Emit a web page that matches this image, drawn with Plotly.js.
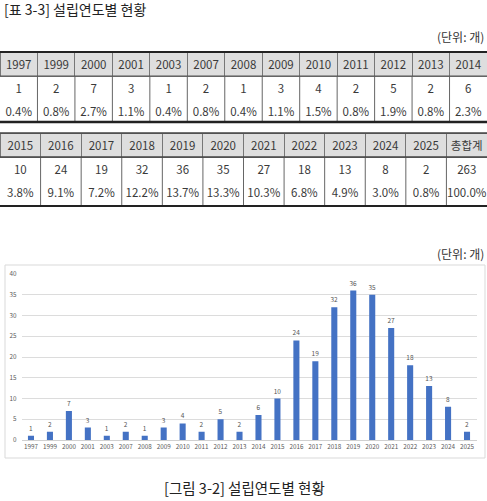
<!DOCTYPE html>
<html>
<head>
<meta charset="utf-8">
<script src="https://cdn.plot.ly/plotly-3.0.1.min.js"></script>
<style>
  html, body { margin: 0; padding: 0; background: #fff; }
  #chart { width: 487px; height: 501px; }
</style>
</head>
<body>
<div id="chart"></div>
<script>
// table 1
var years1 = ['1997', '1999', '2000', '2001', '2003', '2007', '2008', '2009', '2010', '2011', '2012', '2013', '2014'];
var counts1 = [1, 2, 7, 3, 1, 2, 1, 3, 4, 2, 5, 2, 6];
var pcts1 = ['0.4%', '0.8%', '2.7%', '1.1%', '0.4%', '0.8%', '0.4%', '1.1%', '1.5%', '0.8%', '1.9%', '0.8%', '2.3%'];

// table 2
var years2 = ['2015', '2016', '2017', '2018', '2019', '2020', '2021', '2022', '2023', '2024', '2025'];
var counts2 = [10, 24, 19, 32, 36, 35, 27, 18, 13, 8, 2];
var pcts2 = ['3.8%', '9.1%', '7.2%', '12.2%', '13.7%', '13.3%', '10.3%', '6.8%', '4.9%', '3.0%', '0.8%'];
var totalLabel = '총합계';
var totalCount = 263;
var totalPct = '100.0%';

var H = 501, W = 487;
var FONT = '"Noto Sans CJK KR", "Noto Sans", sans-serif';

function py(px) { return 1 - px / H; }
function px(x) { return x / W; }

function makeTable(headers, counts, pcts, top, bottom) {
  return {
    type: 'table',
    domain: {x: [0, 1], y: [py(bottom), py(top)]},
    columnwidth: headers.map(function () { return 1; }),
    header: {
      values: headers.map(function (h) { return [h]; }),
      height: 24,
      align: 'center',
      fill: {color: '#dedede'},
      line: {color: '#777', width: 1},
      font: {family: FONT, size: 11.5, color: '#3a3a3a'}
    },
    cells: {
      values: headers.map(function (h, i) { return [String(counts[i]), pcts[i]]; }),
      height: 23,
      align: 'center',
      fill: {color: 'white'},
      line: {color: 'white', width: 1},
      font: {family: FONT, size: 11.5, color: '#3a3a3a'}
    }
  };
}

var t1Top = 52, t1Bot = 122, t2Top = 133, t2Bot = 206;

var table1 = makeTable(years1, counts1, pcts1, t1Top, t1Bot);
var table2 = makeTable(years2.concat([totalLabel]), counts2.concat([totalCount]), pcts2.concat([totalPct]), t2Top, t2Bot);

var chartYears = years1.concat(years2);
var chartCounts = counts1.concat(counts2);

var bars = {
  type: 'bar',
  x: chartYears,
  y: chartCounts,
  text: chartCounts.map(String),
  textposition: 'outside',
  constraintext: 'none',
  cliponaxis: false,
  textfont: {family: FONT, size: 6.5, color: '#555'},
  marker: {color: '#4472c4'},
  width: 0.32,
  hoverinfo: 'x+y',
  xaxis: 'x',
  yaxis: 'y'
};

var shapes = [];
function hline(y, x0, x1, w, c) {
  shapes.push({type: 'line', xref: 'paper', yref: 'paper', x0: px(x0), x1: px(x1), y0: py(y), y1: py(y),
    line: {color: c, width: w}, layer: 'above'});
}
function verticals(n, y0, y1) {
  for (var i = 1; i < n; i++) {
    shapes.push({type: 'line', xref: 'paper', yref: 'paper', x0: i / n, x1: i / n, y0: py(y0), y1: py(y1),
      line: {color: '#666', width: 1}, layer: 'above'});
  }
}
verticals(years1.length, t1Top + 24, t1Bot);
verticals(years2.length + 1, t2Top + 24, t2Bot);
hline(t1Top, 0, W, 2, '#222');
hline(t1Top + 24, 0, W, 1, '#555');
hline(t1Bot, 0, W, 2.5, '#222');
hline(t2Top, 0, W, 1.5, '#444');
hline(t2Top + 24, 0, W, 1.5, '#444');
hline(t2Bot, 0, W, 2, '#222');

// chart frame
shapes.push({type: 'rect', xref: 'paper', yref: 'paper', x0: px(5), x1: px(485), y0: py(458), y1: py(265),
  line: {color: '#d9d9d9', width: 1}, layer: 'below'});

var annotations = [
  {text: '[표 3-3] 설립연도별 현황', x: px(2), y: py(9), xanchor: 'left', yanchor: 'middle',
    font: {family: FONT, size: 14, color: '#222'}},
  {text: '(단위: 개)', x: px(486), y: py(37), xanchor: 'right', yanchor: 'middle',
    font: {family: FONT, size: 12, color: '#333'}},
  {text: '(단위: 개)', x: px(486), y: py(253), xanchor: 'right', yanchor: 'middle',
    font: {family: FONT, size: 12, color: '#333'}},
  {text: '[그림 3-2] 설립연도별 현황', x: px(245), y: py(487), xanchor: 'center', yanchor: 'middle',
    font: {family: FONT, size: 14.5, color: '#222'}}
].map(function (a) { a.xref = 'paper'; a.yref = 'paper'; a.showarrow = false; return a; });

var layout = {
  width: W,
  height: H,
  margin: {l: 0, r: 0, t: 0, b: 0},
  paper_bgcolor: 'white',
  plot_bgcolor: 'white',
  showlegend: false,
  xaxis: {
    domain: [px(21.5), px(476.5)],
    type: 'category',
    showgrid: false,
    showline: false,
    ticks: '',
    tickfont: {family: FONT, size: 6.3, color: '#595959'},
    ticklabelstandoff: 2
  },
  yaxis: {
    domain: [py(440), py(274)],
    range: [0, 40],
    dtick: 5,
    showgrid: true,
    gridcolor: '#dcdcdc',
    gridwidth: 1,
    zeroline: true,
    zerolinecolor: '#d0d0d0',
    ticks: '',
    tickfont: {family: FONT, size: 6.3, color: '#595959'},
    ticklabelstandoff: 4
  },
  shapes: shapes,
  annotations: annotations
};

Plotly.newPlot('chart', [table1, table2, bars], layout, {displayModeBar: false, staticPlot: true});
</script>
</body>
</html>
